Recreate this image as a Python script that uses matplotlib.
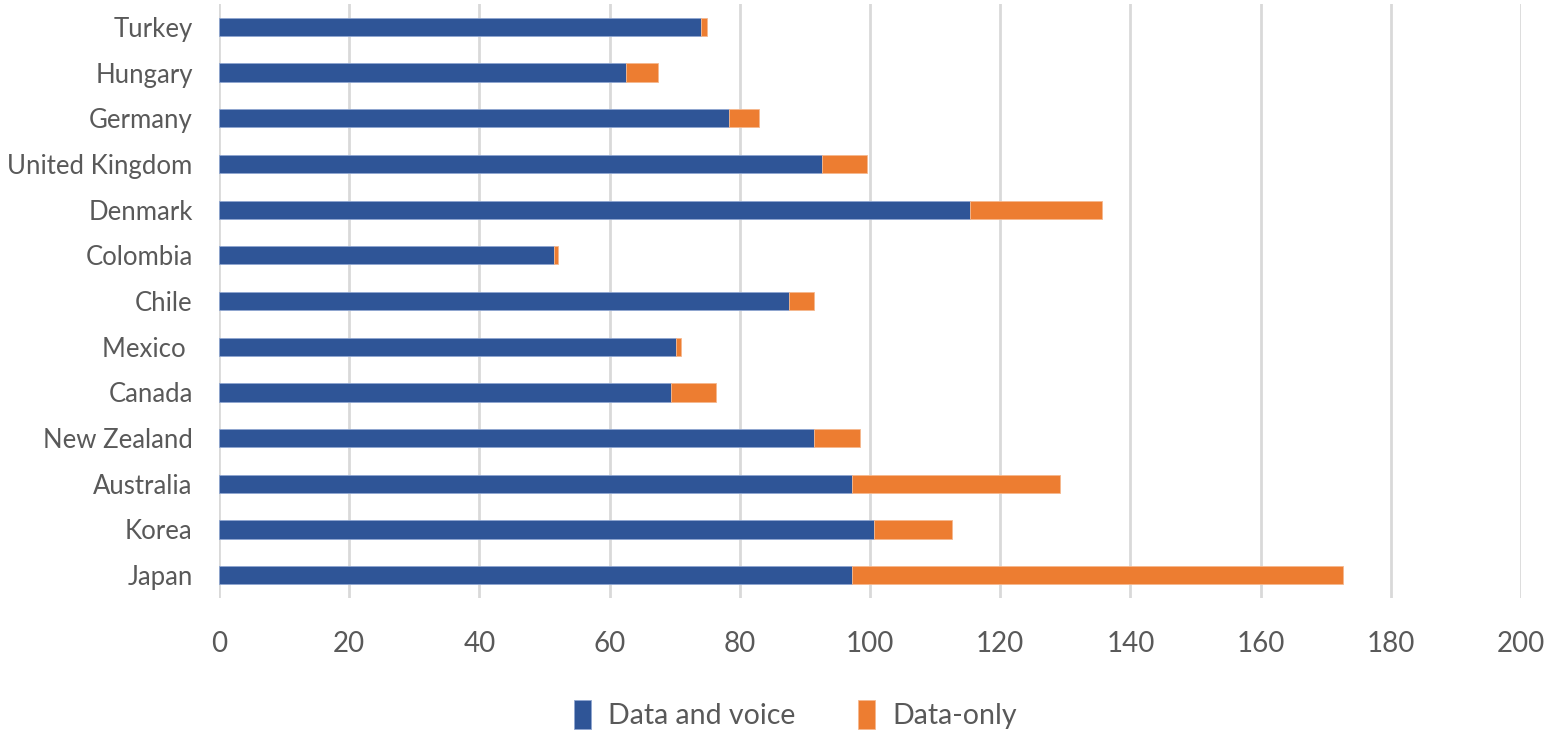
import numpy as np
import matplotlib.pyplot as plt

countries = ['Japan', 'Korea', 'Australia', 'New Zealand', 'Canada', 'Mexico ',
             'Chile', 'Colombia', 'Denmark', 'United Kingdom', 'Germany',
             'Hungary', 'Turkey']
data_voice = [97.2, 100.6, 97.2, 91.4, 69.4, 70.2, 87.5, 51.4, 115.3, 92.6, 78.3, 62.5, 74.0]
data_only = [75.4, 12.0, 32.0, 7.0, 7.0, 0.8, 3.9, 0.7, 20.4, 6.9, 4.6, 5.0, 0.9]
xticks = [0, 20, 40, 60, 80, 100, 120, 140, 160, 180, 200]

plt.rcParams['font.family'] = ['Lato', 'DejaVu Sans']
grey = '#595959'

fig = plt.figure(figsize=(15.48, 7.36), dpi=100)
ax = fig.add_axes([0.1415, 0.1875, 0.8411, 0.807])

y = np.arange(len(countries))
ax.barh(y, data_voice, height=0.4, color='#2F5597', edgecolor='#8FA6D0', linewidth=0.6,
        label='Data and voice', zorder=3)
ax.barh(y, data_only, left=data_voice, height=0.4, color='#ED7D31', edgecolor='#F5B88E',
        linewidth=0.6, label='Data-only', zorder=3)

ax.set_xlim(0, 200)
ax.set_ylim(-0.5, len(countries) - 0.5)
ax.set_xticks(xticks)
ax.set_yticks(y)
ax.set_yticklabels(countries)
ax.tick_params(axis='y', length=0, pad=19, labelsize=18.5, labelcolor=grey)
ax.tick_params(axis='x', length=0, pad=24, labelsize=20, labelcolor=grey)
ax.grid(axis='x', color='#D9D9D9', linewidth=2, zorder=0)
ax.set_axisbelow(True)
for s in ax.spines.values():
    s.set_visible(False)

fig.legend(loc='lower center', bbox_to_anchor=(0.514, -0.025), ncol=2, frameon=False,
           fontsize=20.5, labelcolor=grey, handlelength=0.6, handleheight=1.2,
           handletextpad=0.6, columnspacing=2.2)

fig.savefig('out.png', dpi=100)
